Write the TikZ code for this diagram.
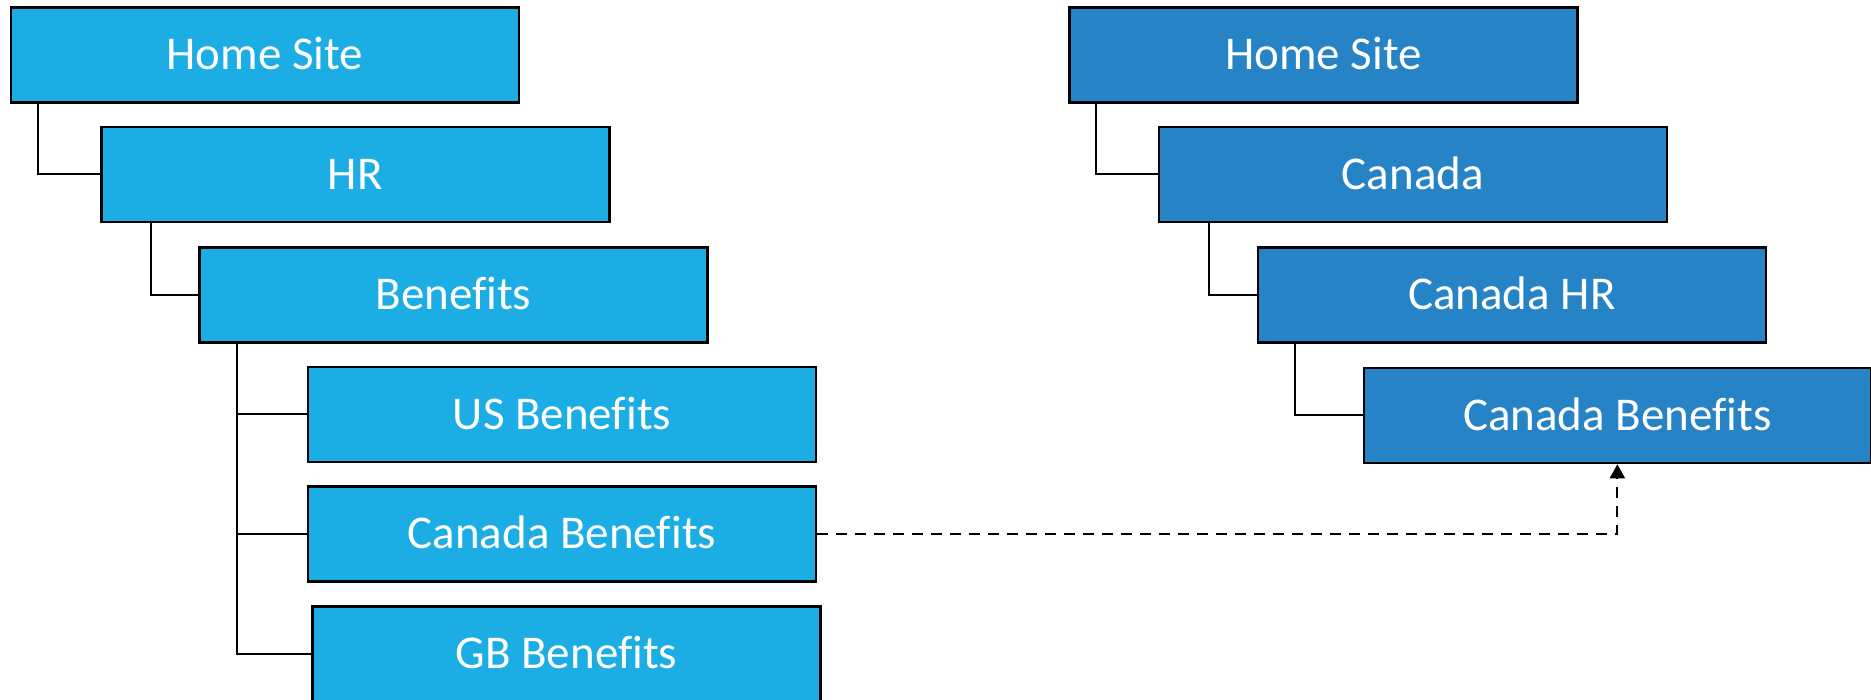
\documentclass[tikz,border=0pt]{standalone}
\usepackage{fontspec}
\setmainfont{Carlito}[Ligatures={NoCommon}]
\usetikzlibrary{arrows.meta}
\definecolor{lblue}{HTML}{1CADE4}
\definecolor{dblue}{HTML}{2683C6}
\tikzset{
  sitebox/.style={draw=black, line width=2.75pt, minimum width=508pt, minimum height=95pt,
    inner sep=0pt, anchor=north west, text=white, text height=30pt, text depth=0pt,
    font=\fontsize{47}{56}\selectfont},
  lbox/.style={sitebox, fill=lblue},
  rbox/.style={sitebox, fill=dblue},
  conn/.style={draw=black, line width=2pt},
  link/.style={draw=black, line width=2pt, dash pattern=on 11pt off 8pt,
    -{Triangle[width=15pt,length=14pt]}}
}
\begin{document}
\begin{tikzpicture}[x=1pt,y=-1pt]
\useasboundingbox (0,0) rectangle (1871,699);
% left tree
\node[lbox] (lhs) at (9.5,6) {Home Site};
\node[lbox] (lhr) at (100,125.5) {HR};
\node[lbox] (lben) at (198,246) {Benefits};
\node[lbox] (lus) at (306.6,365.5) {US Benefits};
\node[lbox] (lcb) at (306.6,485) {Canada Benefits};
\node[lbox] (lgb) at (311,605) {GB Benefits};
% right tree
\node[rbox] (rhs) at (1068,6) {Home Site};
\node[rbox] (rca) at (1157.5,125.5) {Canada};
\node[rbox] (rchr) at (1256.5,246) {Canada HR};
\node[rbox, minimum width=507pt] (rcb) at (1362.5,366.5) {Canada Benefits};
% connectors
\draw[conn] ([xshift=28.5pt]lhs.south west) |- (lhr.west);
\draw[conn] ([xshift=51pt]lhr.south west) |- (lben.west);
\draw[conn] ([xshift=39pt]lben.south west) |- (lus.west);
\draw[conn] ([xshift=39pt]lben.south west) |- (lcb.west);
\draw[conn] ([xshift=39pt]lben.south west) |- (lgb.west);
\draw[conn] ([xshift=27.5pt]rhs.south west) |- (rca.west);
\draw[conn] ([xshift=51.5pt]rca.south west) |- (rchr.west);
\draw[conn] ([xshift=38pt]rchr.south west) |- (rcb.west);
% link
\draw[link] (lcb.east) -| (rcb.south);
\end{tikzpicture}
\end{document}
